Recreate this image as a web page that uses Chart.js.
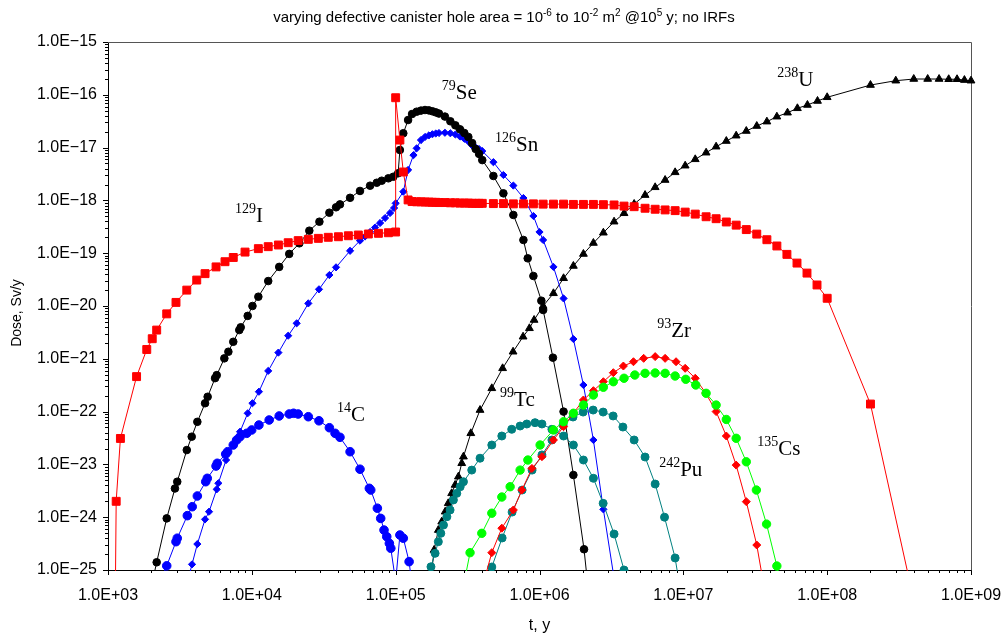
<!DOCTYPE html>
<html>
<head>
<meta charset="utf-8">
<script src="https://cdn.jsdelivr.net/npm/chart.js@4.4.1/dist/chart.umd.min.js"></script>
<style>
  html, body { margin: 0; padding: 0; background: #fff; }
  #wrap { width: 1008px; height: 639px; }
</style>
</head>
<body>
<div id="wrap"><canvas id="doseChart" width="1008" height="639"></canvas></div>
<script>
// axis ticks
const xTickValues = [1e3, 1e4, 1e5, 1e6, 1e7, 1e8, 1e9];
const xTickLabels = ["1.0E+03", "1.0E+04", "1.0E+05", "1.0E+06", "1.0E+07", "1.0E+08", "1.0E+09"];
const yTickValues = [1e-25, 1e-24, 1e-23, 1e-22, 1e-21, 1e-20, 1e-19, 1e-18, 1e-17, 1e-16, 1e-15];
const yTickLabels = ["1.0E\u221225", "1.0E\u221224", "1.0E\u221223", "1.0E\u221222", "1.0E\u221221", "1.0E\u221220", "1.0E\u221219", "1.0E\u221218", "1.0E\u221217", "1.0E\u221216", "1.0E\u221215"];

// I-129
const iodineT = [1.12e3, 1.14e3, 1.22e3, 1.58e3, 1.86e3, 2.03e3, 2.18e3, 2.56e3, 2.97e3, 3.53e3, 4.14e3, 4.73e3, 5.64e3, 6.51e3, 7.43e3, 8.97e3, 1.11e4, 1.30e4, 1.53e4, 1.79e4, 2.10e4, 2.47e4, 2.90e4, 3.40e4, 4.0e4, 4.69e4, 5.5e4, 6.46e4, 7.59e4, 8.9e4, 9.99e4, 1.0e5, 1.07e5, 1.13e5, 1.22e5, 1.3e5, 1.4e5, 1.5e5, 1.6e5, 1.7e5, 1.8e5, 1.9e5, 2.0e5, 2.2e5, 2.4e5, 2.6e5, 2.8e5, 3.0e5, 3.2e5, 3.4e5, 3.6e5, 3.8e5, 4.0e5, 4.78e5, 5.61e5, 6.58e5, 7.73e5, 9.07e5, 1.06e6, 1.25e6, 1.47e6, 1.72e6, 2.02e6, 2.37e6, 2.78e6, 3.30e6, 3.87e6, 4.55e6, 5.42e6, 6.37e6, 7.47e6, 8.77e6, 1.03e7, 1.21e7, 1.44e7, 1.69e7, 1.99e7, 2.33e7, 2.74e7, 3.24e7, 3.81e7, 4.47e7, 5.25e7, 6.17e7, 7.24e7, 8.5e7, 1.0e8, 2.0e8, 4.0e8];
const iodineDose = [1e-26, 2.0e-24, 3.1e-23, 4.6e-22, 1.5e-21, 2.4e-21, 3.5e-21, 7.1e-21, 1.17e-20, 2.0e-20, 3.1e-20, 4.1e-20, 5.5e-20, 6.9e-20, 8.3e-20, 1.05e-19, 1.22e-19, 1.33e-19, 1.43e-19, 1.58e-19, 1.73e-19, 1.83e-19, 1.91e-19, 2.0e-19, 2.05e-19, 2.14e-19, 2.21e-19, 2.31e-19, 2.38e-19, 2.44e-19, 2.52e-19, 8.8e-17, 1.39e-17, 3.45e-18, 1.02e-18, 9.5e-19, 9.4e-19, 9.4e-19, 9.3e-19, 9.3e-19, 9.2e-19, 9.2e-19, 9.1e-19, 9.1e-19, 9.0e-19, 9.0e-19, 8.9e-19, 8.9e-19, 8.9e-19, 8.8e-19, 8.8e-19, 8.8e-19, 8.8e-19, 8.7e-19, 8.7e-19, 8.6e-19, 8.6e-19, 8.6e-19, 8.5e-19, 8.5e-19, 8.5e-19, 8.4e-19, 8.4e-19, 8.4e-19, 8.3e-19, 8.2e-19, 7.8e-19, 7.6e-19, 7.1e-19, 6.8e-19, 6.6e-19, 6.4e-19, 6.0e-19, 5.5e-19, 4.9e-19, 4.5e-19, 3.9e-19, 3.4e-19, 2.8e-19, 2.3e-19, 1.8e-19, 1.37e-19, 9.5e-20, 6.5e-20, 4.2e-20, 2.5e-20, 1.4e-20, 1.39e-22, 2.7e-26];

// Se-79
const seT = [2.0e3, 2.18e3, 2.56e3, 2.92e3, 3.03e3, 3.53e3, 3.82e3, 4.18e3, 4.73e3, 4.93e3, 5.55e3, 5.7e3, 6.44e3, 6.87e3, 7.43e3, 8.18e3, 8.37e3, 9.36e3, 1.01e4, 1.11e4, 1.30e4, 1.55e4, 1.82e4, 2.14e4, 2.51e4, 2.95e4, 3.46e4, 3.85e4, 4.1e4, 4.82e4, 5.65e4, 6.64e4, 7.39e4, 8.0e4, 8.9e4, 9.64e4, 1.04e5, 1.07e5, 1.13e5, 1.22e5, 1.3e5, 1.4e5, 1.5e5, 1.6e5, 1.7e5, 1.8e5, 1.9e5, 2.0e5, 2.2e5, 2.4e5, 2.6e5, 2.8e5, 3.0e5, 3.2e5, 3.4e5, 3.6e5, 3.8e5, 4.0e5, 4.78e5, 5.61e5, 6.58e5, 7.73e5, 8.28e5, 9.07e5, 1.03e6, 1.06e6, 1.24e6, 1.47e6, 1.72e6, 2.04e6, 2.37e6];
const seDose = [4.8e-26, 1.4e-25, 9.5e-25, 3.5e-24, 4.7e-24, 1.87e-23, 3.35e-23, 6.4e-23, 1.44e-22, 1.91e-22, 4.3e-22, 4.9e-22, 1.02e-21, 1.36e-21, 2.1e-21, 3.5e-21, 3.95e-21, 6.5e-21, 1.0e-20, 1.5e-20, 2.97e-20, 5.5e-20, 9.7e-20, 1.54e-19, 2.67e-19, 3.95e-19, 5.85e-19, 7.4e-19, 8.4e-19, 1.12e-18, 1.51e-18, 1.9e-18, 2.16e-18, 2.36e-18, 2.62e-18, 2.81e-18, 3.26e-18, 9.0e-18, 1.87e-17, 3.33e-17, 4.33e-17, 4.79e-17, 5.02e-17, 5.15e-17, 5.07e-17, 4.87e-17, 4.65e-17, 4.41e-17, 3.87e-17, 3.15e-17, 2.64e-17, 2.22e-17, 1.89e-17, 1.59e-17, 1.22e-17, 9.4e-18, 7.6e-18, 5.8e-18, 2.9e-18, 1.36e-18, 5.3e-19, 1.78e-19, 8.0e-20, 3.7e-20, 1.26e-20, 8.4e-21, 1.05e-21, 1.0e-22, 6.3e-24, 2.47e-25, 5e-27];

// Sn-126
const snT = [3.43e3, 3.84e3, 4.18e3, 4.73e3, 5.04e3, 5.7e3, 5.85e3, 6.62e3, 7.76e3, 8.28e3, 9.36e3, 1.01e4, 1.12e4, 1.30e4, 1.53e4, 1.79e4, 2.05e4, 2.47e4, 2.93e4, 3.46e4, 3.85e4, 4.82e4, 5.65e4, 6.12e4, 6.64e4, 7.19e4, 7.79e4, 8.44e4, 9.14e4, 9.75e4, 1.0e5, 1.13e5, 1.22e5, 1.33e5, 1.4e5, 1.5e5, 1.6e5, 1.7e5, 1.8e5, 1.9e5, 2.0e5, 2.2e5, 2.4e5, 2.6e5, 2.8e5, 3.0e5, 3.2e5, 3.4e5, 3.6e5, 3.8e5, 4.0e5, 4.78e5, 5.61e5, 6.58e5, 7.73e5, 9.07e5, 1.0e6, 1.06e6, 1.25e6, 1.47e6, 1.72e6, 2.02e6, 2.37e6, 2.78e6, 3.3e6];
const snDose = [4e-26, 1.28e-25, 3.1e-25, 9.1e-25, 1.27e-24, 3.37e-24, 4.4e-24, 1.21e-23, 2.99e-23, 4.16e-23, 9.3e-23, 1.44e-22, 2.38e-22, 5.9e-22, 1.31e-21, 2.74e-21, 4.7e-21, 1.12e-20, 2.07e-20, 3.86e-20, 5.4e-20, 1.11e-19, 1.73e-19, 2.07e-19, 2.52e-19, 3.07e-19, 3.73e-19, 4.64e-19, 5.77e-19, 7.18e-19, 8.8e-19, 1.46e-18, 3.77e-18, 7.2e-18, 9.7e-18, 1.39e-17, 1.59e-17, 1.70e-17, 1.79e-17, 1.85e-17, 1.89e-17, 1.91e-17, 1.87e-17, 1.77e-17, 1.62e-17, 1.47e-17, 1.31e-17, 1.10e-17, 1.0e-17, 9.4e-18, 8.6e-18, 5.3e-18, 3.03e-18, 1.91e-18, 1.11e-18, 5.07e-19, 2.52e-19, 1.78e-19, 5.5e-20, 1.39e-20, 2.37e-21, 3.19e-22, 2.9e-23, 1.41e-24, 7e-26];

// C-14
const cT = [2.3e3, 2.56e3, 2.97e3, 3.03e3, 3.56e3, 3.85e3, 4.18e3, 4.78e3, 4.9e3, 5.64e3, 5.75e3, 6.58e3, 6.79e3, 7.43e3, 7.85e3, 8.28e3, 9.22e3, 9.98e3, 1.12e4, 1.32e4, 1.55e4, 1.82e4, 1.95e4, 2.10e4, 2.47e4, 2.93e4, 3.46e4, 3.79e4, 4.1e4, 4.82e4, 5.65e4, 6.56e4, 6.71e4, 7.46e4, 7.87e4, 8.3e4, 8.67e4, 9.04e4, 9.25e4, 1.0e5, 1.07e5, 1.13e5, 1.24e5, 1.3e5];
const cDose = [5.9e-26, 1.2e-25, 3.44e-25, 4.0e-25, 1.07e-24, 1.58e-24, 2.52e-24, 4.7e-24, 5.45e-24, 9.3e-24, 1.05e-23, 1.57e-23, 1.74e-23, 2.33e-23, 2.9e-23, 3.35e-23, 3.88e-23, 4.49e-23, 5.57e-23, 6.93e-23, 8.26e-23, 9.0e-23, 9.3e-23, 9.0e-23, 8.0e-23, 6.7e-23, 4.95e-23, 3.88e-23, 3.26e-23, 1.74e-23, 8.1e-24, 3.52e-24, 3.27e-24, 1.48e-24, 9.5e-25, 5.7e-25, 4.28e-25, 3.2e-25, 2.58e-25, 6e-26, 4.6e-25, 4.0e-25, 1.44e-25, 5e-26];

// U-238
const uT = [1.75e5, 1.85e5, 1.98e5, 2.09e5, 2.21e5, 2.32e5, 2.45e5, 2.59e5, 2.73e5, 2.88e5, 2.96e5, 3.33e5, 3.86e5, 4.66e5, 5.54e5, 6.55e5, 7.69e5, 8.51e5, 9.17e5, 1.06e6, 1.25e6, 1.47e6, 1.72e6, 2.02e6, 2.37e6, 2.78e6, 3.30e6, 3.87e6, 4.55e6, 5.42e6, 6.37e6, 7.47e6, 8.77e6, 1.03e7, 1.21e7, 1.44e7, 1.69e7, 1.99e7, 2.33e7, 2.74e7, 3.24e7, 3.81e7, 4.47e7, 5.3e7, 6.21e7, 7.29e7, 8.57e7, 1.0e8, 2.0e8, 3.0e8, 4.0e8, 5.0e8, 6.0e8, 7.0e8, 8.0e8, 9.0e8, 1.0e9];
const uDose = [6e-26, 2.39e-25, 5.7e-25, 8.2e-25, 1.27e-24, 1.83e-24, 2.83e-24, 4.07e-24, 5.85e-24, 1.05e-23, 1.4e-23, 3.88e-23, 1.07e-22, 2.76e-22, 6.6e-22, 1.36e-21, 2.62e-21, 3.78e-21, 5.43e-21, 1.0e-20, 1.74e-20, 3.35e-20, 5.73e-20, 9.66e-20, 1.56e-19, 2.44e-19, 3.95e-19, 5.7e-19, 8.55e-19, 1.26e-18, 1.77e-18, 2.43e-18, 3.4e-18, 4.54e-18, 6.0e-18, 8.0e-18, 1.04e-17, 1.33e-17, 1.68e-17, 2.06e-17, 2.56e-17, 3.1e-17, 3.85e-17, 4.58e-17, 5.55e-17, 6.41e-17, 7.63e-17, 8.97e-17, 1.53e-16, 1.85e-16, 1.99e-16, 1.99e-16, 1.99e-16, 1.97e-16, 1.97e-16, 1.9e-16, 1.85e-16];

// Tc-99
const tcT = [1.7e5, 1.76e5, 1.88e5, 1.98e5, 2.06e5, 2.15e5, 2.27e5, 2.39e5, 2.52e5, 2.66e5, 2.81e5, 2.96e5, 3.38e5, 3.86e5, 4.66e5, 5.47e5, 6.41e5, 7.33e5, 8.16e5, 9.31e5, 1.04e6, 1.22e6, 1.47e6, 1.72e6, 2.02e6, 2.37e6, 2.77e6, 3.3e6, 3.87e6, 4.55e6];
const tcDose = [5e-26, 1.15e-25, 2.07e-25, 3.44e-25, 4.95e-25, 7.1e-25, 1.02e-24, 1.37e-24, 2.12e-24, 2.83e-24, 3.78e-24, 4.7e-24, 7.8e-24, 1.31e-23, 2.33e-23, 3.45e-23, 4.62e-23, 5.33e-23, 5.82e-23, 6.17e-23, 5.82e-23, 4.62e-23, 3.45e-23, 2.33e-23, 1.21e-23, 5.46e-24, 1.83e-24, 4.8e-25, 1.0e-25, 1.1e-26];

// Pu-242
const puT = [4.3e5, 4.66e5, 5.5e5, 6.45e5, 7.57e5, 8.88e5, 1.04e6, 1.22e6, 1.46e6, 1.71e6, 2.01e6, 2.36e6, 2.77e6, 3.25e6, 3.8e6, 4.55e6, 5.42e6, 6.37e6, 7.4e6, 8.77e6, 1.03e7];
const puDose = [3e-26, 1.14e-25, 4.04e-25, 1.25e-24, 3.27e-24, 7.8e-24, 1.51e-23, 2.9e-23, 5.57e-23, 7.9e-23, 9.8e-23, 1.07e-22, 9.8e-23, 8.26e-23, 5.1e-23, 2.9e-23, 1.38e-23, 4.25e-24, 1.0e-24, 1.69e-25, 1.1e-26];

// Zr-93
const zrT = [4.1e5, 4.66e5, 5.47e5, 6.58e5, 7.54e5, 8.86e5, 1.04e6, 1.25e6, 1.47e6, 1.72e6, 2.02e6, 2.37e6, 2.78e6, 3.26e6, 3.83e6, 4.5e6, 5.3e6, 6.37e6, 7.47e6, 8.9e6, 1.03e7, 1.21e7, 1.43e7, 1.69e7, 1.99e7, 2.33e7, 2.74e7, 3.24e7, 3.81e7];
const zrDose = [6e-26, 2.13e-25, 6.2e-25, 1.37e-24, 3.27e-24, 8.4e-24, 1.4e-23, 2.9e-23, 5.18e-23, 9.3e-23, 1.66e-22, 2.49e-22, 3.68e-22, 5.46e-22, 7.3e-22, 8.8e-22, 1.02e-21, 1.1e-21, 1.02e-21, 8.8e-22, 6.6e-22, 4.28e-22, 2.25e-22, 1.0e-22, 3.45e-23, 9.7e-24, 1.97e-24, 2.97e-25, 2.35e-26];

// Cs-135
const csT = [3.0e5, 3.29e5, 3.97e5, 4.66e5, 5.47e5, 6.25e5, 7.33e5, 8.3e5, 1.01e6, 1.25e6, 1.47e6, 1.72e6, 2.02e6, 2.37e6, 2.78e6, 3.26e6, 3.87e6, 4.6e6, 5.42e6, 6.37e6, 7.47e6, 8.77e6, 1.04e7, 1.22e7, 1.44e7, 1.69e7, 1.99e7, 2.33e7, 2.74e7, 3.22e7, 3.79e7, 4.47e7, 5.25e7];
const csDose = [6e-26, 2.13e-25, 4.95e-25, 1.19e-24, 2.41e-24, 3.78e-24, 7.8e-24, 1.21e-23, 2.33e-23, 4.49e-23, 6.44e-23, 9.3e-23, 1.33e-22, 2.06e-22, 2.89e-22, 3.68e-22, 4.28e-22, 4.93e-22, 5.31e-22, 5.39e-22, 5.31e-22, 4.72e-22, 4.09e-22, 3.19e-22, 2.22e-22, 1.33e-22, 7.1e-23, 3.12e-23, 1.12e-23, 3.27e-24, 7.4e-25, 1.19e-25, 1.7e-26];

// nuclide labels: mass number, symbol, anchor (t, dose)
const nuclideMass = ["129", "79", "126", "238", "93", "14", "99", "242", "135"];
const nuclideSymbol = ["I", "Se", "Sn", "U", "Zr", "C", "Tc", "Pu", "Cs"];
const nuclideLabelT = [7.64e3, 2.09e5, 4.91e5, 4.49e7, 6.58e6, 3.91e4, 5.32e5, 6.79e6, 3.26e7];
const nuclideLabelDose = [3.9e-19, 8.3e-17, 8.6e-18, 1.47e-16, 2.59e-21, 6.6e-23, 1.28e-22, 6.0e-24, 1.5e-23];

const titleParts = [
  ["varying defective canister hole area = 10", false], ["-6", true],
  [" to 10", false], ["-2", true], [" m", false], ["2", true],
  [" @10", false], ["5", true], [" y; no IRFs", false]
];
const yAxisTitle = "Dose, Sv/y";

function series(label, xs, ys, color, style, radius) {
  return {
    label: label,
    data: xs.map((t, i) => ({ x: t, y: ys[i] })),
    borderColor: color,
    backgroundColor: color,
    borderWidth: 1,
    pointStyle: style,
    pointRadius: radius,
    pointBorderWidth: 1,
    pointBackgroundColor: color,
    pointBorderColor: color,
    tension: 0,
    fill: false,
    clip: { left: 6, top: 6, right: 6, bottom: 1 }
  };
}

function drawParts(ctx, x, y, parts, font, supFont, rise) {
  let cx = x;
  for (const [txt, sup] of parts) {
    ctx.font = sup ? supFont : font;
    ctx.fillText(txt, cx, sup ? y - rise : y);
    cx += ctx.measureText(txt).width;
  }
}

function partsWidth(ctx, parts, font, supFont) {
  let w = 0;
  for (const [txt, sup] of parts) {
    ctx.font = sup ? supFont : font;
    w += ctx.measureText(txt).width;
  }
  return w;
}

const framePlugin = {
  id: "frame",
  beforeDatasetsDraw(chart) {
    const { ctx, chartArea: a, scales: { x, y } } = chart;
    ctx.save();
    ctx.lineWidth = 1;
    ctx.strokeStyle = "#000";
    // minor and major tick marks, outside the frame
    ctx.beginPath();
    for (let e = 3; e <= 9; e++) {
      for (let m = 1; m <= 9; m++) {
        if (e === 9 && m > 1) break;
        const px = Math.round(x.getPixelForValue(m * Math.pow(10, e))) + 0.5;
        ctx.moveTo(px, a.bottom);
        ctx.lineTo(px, a.bottom + (m === 1 ? 5 : 3));
      }
    }
    for (let e = -25; e <= -15; e++) {
      for (let m = 1; m <= 9; m++) {
        if (e === -15 && m > 1) break;
        const py = Math.round(y.getPixelForValue(m * Math.pow(10, e))) + 0.5;
        ctx.moveTo(a.left, py);
        ctx.lineTo(a.left - (m === 1 ? 5 : 3), py);
      }
    }
    ctx.stroke();
    // frame
    ctx.strokeStyle = "#555";
    ctx.beginPath();
    ctx.moveTo(Math.round(a.left) + 0.5, Math.round(a.top) + 0.5);
    ctx.lineTo(Math.round(a.right) + 0.5, Math.round(a.top) + 0.5);
    ctx.lineTo(Math.round(a.right) + 0.5, Math.round(a.bottom) + 0.5);
    ctx.stroke();
    ctx.strokeStyle = "#000";
    ctx.beginPath();
    ctx.moveTo(Math.round(a.left) + 0.5, Math.round(a.top) + 0.5);
    ctx.lineTo(Math.round(a.left) + 0.5, Math.round(a.bottom) + 0.5);
    ctx.lineTo(Math.round(a.right) + 0.5, Math.round(a.bottom) + 0.5);
    ctx.stroke();
    ctx.restore();
  },
  afterDraw(chart) {
    const { ctx, scales: { x, y } } = chart;
    ctx.save();
    ctx.fillStyle = "#000";
    ctx.textBaseline = "alphabetic";
    ctx.textAlign = "left";
    // title with superscripts
    const tFont = '15px "Liberation Sans", Arial, sans-serif';
    const tSup = '10px "Liberation Sans", Arial, sans-serif';
    const tw = partsWidth(ctx, titleParts, tFont, tSup);
    drawParts(ctx, 504 - tw / 2, 22, titleParts, tFont, tSup, 6);
    // nuclide labels
    const nFont = '21px "Liberation Serif", "Times New Roman", serif';
    const nSup = '14px "Liberation Serif", "Times New Roman", serif';
    for (let i = 0; i < nuclideSymbol.length; i++) {
      const px = x.getPixelForValue(nuclideLabelT[i]);
      const py = y.getPixelForValue(nuclideLabelDose[i]);
      drawParts(ctx, px, py, [[nuclideMass[i], true], [nuclideSymbol[i], false]], nFont, nSup, 9);
    }
    // y axis title
    ctx.translate(17, 313);
    ctx.rotate(-Math.PI / 2);
    ctx.textAlign = "center";
    ctx.textBaseline = "middle";
    ctx.font = '14px "Liberation Sans", Arial, sans-serif';
    ctx.fillText(yAxisTitle, 0, 0);
    ctx.restore();
  }
};

const config = {
  type: "line",
  data: {
    datasets: [
      series("135Cs", csT, csDose, "#00FF00", "circle", 4.2),
      series("93Zr", zrT, zrDose, "#FF0000", "rectRot", 4),
      series("99Tc", tcT, tcDose, "#008080", "circle", 4),
      series("242Pu", puT, puDose, "#008080", "circle", 4),
      series("129I", iodineT, iodineDose, "#FF0000", "rect", 5.6),
      series("79Se", seT, seDose, "#000000", "circle", 3.8),
      series("126Sn", snT, snDose, "#0000FF", "rectRot", 3.6),
      series("14C", cT, cDose, "#0000FF", "circle", 4.3),
      series("238U", uT, uDose, "#000000", "triangle", 4.5)
    ]
  },
  options: {
    responsive: false,
    animation: false,
    devicePixelRatio: 1,
    layout: { autoPadding: false, padding: { left: 0, right: 37, top: 42, bottom: 0 } },
    plugins: {
      legend: { display: false },
      tooltip: { enabled: false },
      title: { display: false }
    },
    scales: {
      x: {
        type: "logarithmic",
        min: 1e3,
        max: 1e9,
        afterFit: (scale) => { scale.height = 69; },
        afterBuildTicks: (scale) => { scale.ticks = xTickValues.map(v => ({ value: v })); },
        grid: { display: false, drawTicks: false },
        border: { display: false },
        ticks: {
          autoSkip: false,
          maxRotation: 0,
          padding: 6,
          color: "#000",
          font: { family: '"Liberation Sans", Arial, sans-serif', size: 16, lineHeight: 2.45 },
          callback: (v, i) => xTickLabels[i]
        },
        title: {
          display: true,
          text: "t, y",
          color: "#000",
          padding: { top: 0, bottom: 4 },
          font: { family: '"Liberation Sans", Arial, sans-serif', size: 16 }
        }
      },
      y: {
        type: "logarithmic",
        min: 1e-25,
        max: 1e-15,
        afterFit: (scale) => { scale.width = 108; },
        afterBuildTicks: (scale) => { scale.ticks = yTickValues.map(v => ({ value: v })); },
        grid: { display: false, drawTicks: false },
        border: { display: false },
        ticks: {
          autoSkip: false,
          padding: 11,
          color: "#000",
          font: { family: '"Liberation Sans", Arial, sans-serif', size: 16 },
          callback: (v, i) => yTickLabels[i]
        },
        title: { display: false }
      }
    }
  },
  plugins: [framePlugin]
};

const doseChart = new Chart(document.getElementById("doseChart"), config);
</script>
</body>
</html>
